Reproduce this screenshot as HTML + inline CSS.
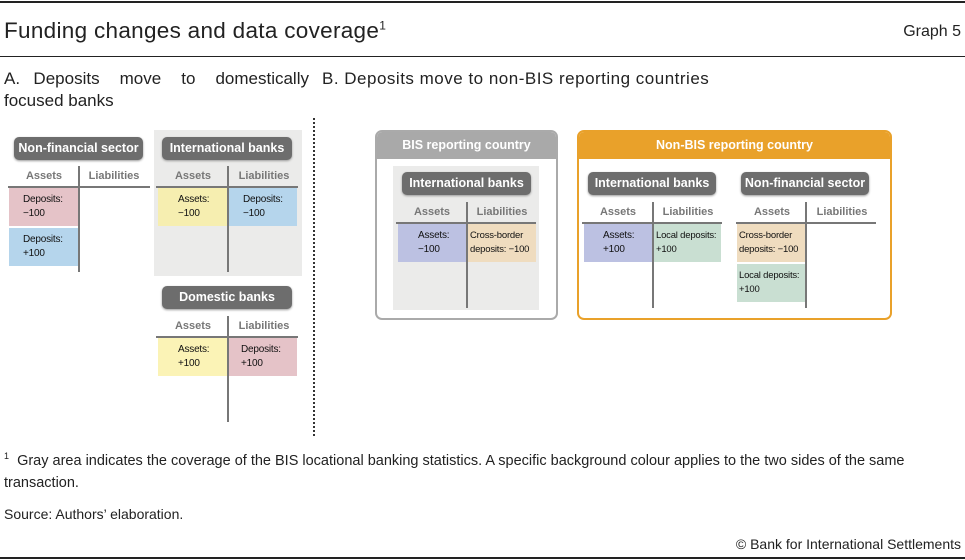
<!DOCTYPE html>
<html><head><meta charset="utf-8"><style>
*{margin:0;padding:0;box-sizing:border-box}
body{width:965px;height:560px;background:#fff;position:relative;overflow:hidden;font-family:"Liberation Sans",sans-serif;color:#111}
.a{position:absolute}
.pill{position:absolute;background:#6d6d6d;color:#fff;font-weight:bold;font-size:12.5px;text-align:center;border-radius:5px;height:23px;line-height:23px;box-shadow:0 1px 2px #999;white-space:nowrap}
.hd{position:absolute;color:#777;font-weight:bold;font-size:11px;text-align:center;width:68px}
.hl{position:absolute;height:2px;background:#777}
.vl{position:absolute;width:2px;background:#777}
.c{position:absolute;font-size:10px;letter-spacing:-0.2px;white-space:nowrap;line-height:14px;padding:5px 0 0 0;color:#111}
.ln{position:absolute;left:0;width:965px;height:1px;background:#222}
</style></head><body>
<div class="ln" style="top:1px;height:2px"></div>
<div class="a" style="left:4px;top:18px;font-size:22.5px;letter-spacing:0.3px;color:#222">Funding changes and data coverage<sup style="font-size:12px">1</sup></div>
<div class="a" style="right:4px;top:23px;font-size:16px;color:#222">Graph 5</div>
<div class="ln" style="top:56px"></div>
<div class="a" style="left:4px;top:68px;font-size:17px;line-height:22px;width:305px;text-align:justify;text-align-last:left;color:#222">A.&nbsp; Deposits&nbsp;&nbsp; move&nbsp;&nbsp; to&nbsp;&nbsp; domestically focused banks</div>
<div class="a" style="left:322px;top:68px;font-size:17px;letter-spacing:0.5px;line-height:22px;color:#222">B. Deposits move to non-BIS reporting countries</div>

<div class="a" style="left:313px;top:118px;height:318px;border-left:2px dotted #333"></div>

<!-- Panel A -->
<div class="a" style="left:154px;top:130px;width:148px;height:146px;background:#ebebea"></div>
<div class="pill" style="left:14px;top:137px;width:129px">Non-financial sector</div>
<div class="hd" style="left:10px;top:170px">Assets</div><div class="hd" style="left:80px;top:170px">Liabilities</div>
<div class="hl" style="left:8px;top:186px;width:142px"></div><div class="vl" style="left:78px;top:166px;height:106px"></div>
<div class="c" style="left:9px;top:188px;width:69px;height:38px;background:#e5c3c8;padding-left:14px">Deposits:<br>−100</div>
<div class="c" style="left:9px;top:228px;width:69px;height:38px;background:#b5d5ec;padding-left:14px">Deposits:<br>+100</div>

<div class="pill" style="left:162px;top:137px;width:130px">International banks</div>
<div class="hd" style="left:159px;top:170px">Assets</div><div class="hd" style="left:230px;top:170px">Liabilities</div>
<div class="hl" style="left:156px;top:186px;width:142px"></div><div class="vl" style="left:227px;top:166px;height:106px"></div>
<div class="c" style="left:158px;top:188px;width:69px;height:38px;background:#f6eeb0;padding-left:20px">Assets:<br>−100</div>
<div class="c" style="left:229px;top:188px;width:68px;height:38px;background:#b5d5ec;padding-left:14px">Deposits:<br>−100</div>

<div class="pill" style="left:162px;top:286px;width:130px">Domestic banks</div>
<div class="hd" style="left:159px;top:320px">Assets</div><div class="hd" style="left:230px;top:320px">Liabilities</div>
<div class="hl" style="left:156px;top:336px;width:142px"></div><div class="vl" style="left:227px;top:316px;height:106px"></div>
<div class="c" style="left:158px;top:338px;width:69px;height:38px;background:#fbf3b6;padding-left:20px">Assets:<br>+100</div>
<div class="c" style="left:229px;top:338px;width:68px;height:38px;background:#e5c3c8;padding-left:12px">Deposits:<br>+100</div>

<!-- Panel B: BIS -->
<div class="a" style="left:375px;top:130px;width:183px;height:190px;border:2px solid #aaa;border-radius:7px;overflow:hidden">
<div style="height:27px;background:#a9a9a9;color:#fff;font-weight:bold;font-size:12.5px;text-align:center;line-height:26px">BIS reporting country</div></div>
<div class="a" style="left:393px;top:166px;width:146px;height:144px;background:#ebebea"></div>
<div class="pill" style="left:402px;top:172px;width:129px">International banks</div>
<div class="hd" style="left:398px;top:206px">Assets</div><div class="hd" style="left:468px;top:206px">Liabilities</div>
<div class="hl" style="left:396px;top:222px;width:140px"></div><div class="vl" style="left:466px;top:202px;height:106px"></div>
<div class="c" style="left:398px;top:224px;width:68px;height:38px;background:#bcc1e2;padding-left:20px">Assets:<br>−100</div>
<div class="c" style="left:468px;top:224px;width:68px;height:38px;background:#efdcbf;padding-left:2px;font-size:9.5px">Cross-border<br>deposits: −100</div>

<!-- Non-BIS -->
<div class="a" style="left:577px;top:130px;width:315px;height:190px;border:2px solid #e9a12a;border-radius:7px;overflow:hidden">
<div style="height:27px;background:#e9a12a;color:#fff;font-weight:bold;font-size:12.5px;text-align:center;line-height:26px">Non-BIS reporting country</div></div>
<div class="pill" style="left:588px;top:172px;width:128px">International banks</div>
<div class="hd" style="left:584px;top:206px">Assets</div><div class="hd" style="left:654px;top:206px">Liabilities</div>
<div class="hl" style="left:582px;top:222px;width:140px"></div><div class="vl" style="left:652px;top:202px;height:106px"></div>
<div class="c" style="left:584px;top:224px;width:68px;height:38px;background:#bcc1e2;padding-left:19px">Assets:<br>+100</div>
<div class="c" style="left:654px;top:224px;width:67px;height:38px;background:#c9dfd2;padding-left:2px;font-size:9.5px">Local deposits:<br>+100</div>

<div class="pill" style="left:741px;top:172px;width:128px">Non-financial sector</div>
<div class="hd" style="left:738px;top:206px">Assets</div><div class="hd" style="left:808px;top:206px">Liabilities</div>
<div class="hl" style="left:736px;top:222px;width:140px"></div><div class="vl" style="left:805px;top:202px;height:106px"></div>
<div class="c" style="left:737px;top:224px;width:68px;height:38px;background:#efdcbf;padding-left:2px;font-size:9.5px">Cross-border<br>deposits: −100</div>
<div class="c" style="left:737px;top:264px;width:68px;height:38px;background:#c9dfd2;padding-left:2px;font-size:9.5px">Local deposits:<br>+100</div>

<!-- footer -->
<div class="a" style="left:4px;top:445px;width:958px;font-size:14.5px;line-height:22px;color:#222"><sup style="font-size:9px">1</sup>&nbsp; Gray area indicates the coverage of the BIS locational banking statistics. A specific background colour applies to the two sides of the same transaction.</div>
<div class="a" style="left:4px;top:506px;font-size:14px;color:#222">Source: Authors’ elaboration.</div>
<div class="a" style="right:4px;top:536px;font-size:14px;color:#222">© Bank for International Settlements</div>
<div class="ln" style="top:557px;height:2px"></div>
</body></html>
